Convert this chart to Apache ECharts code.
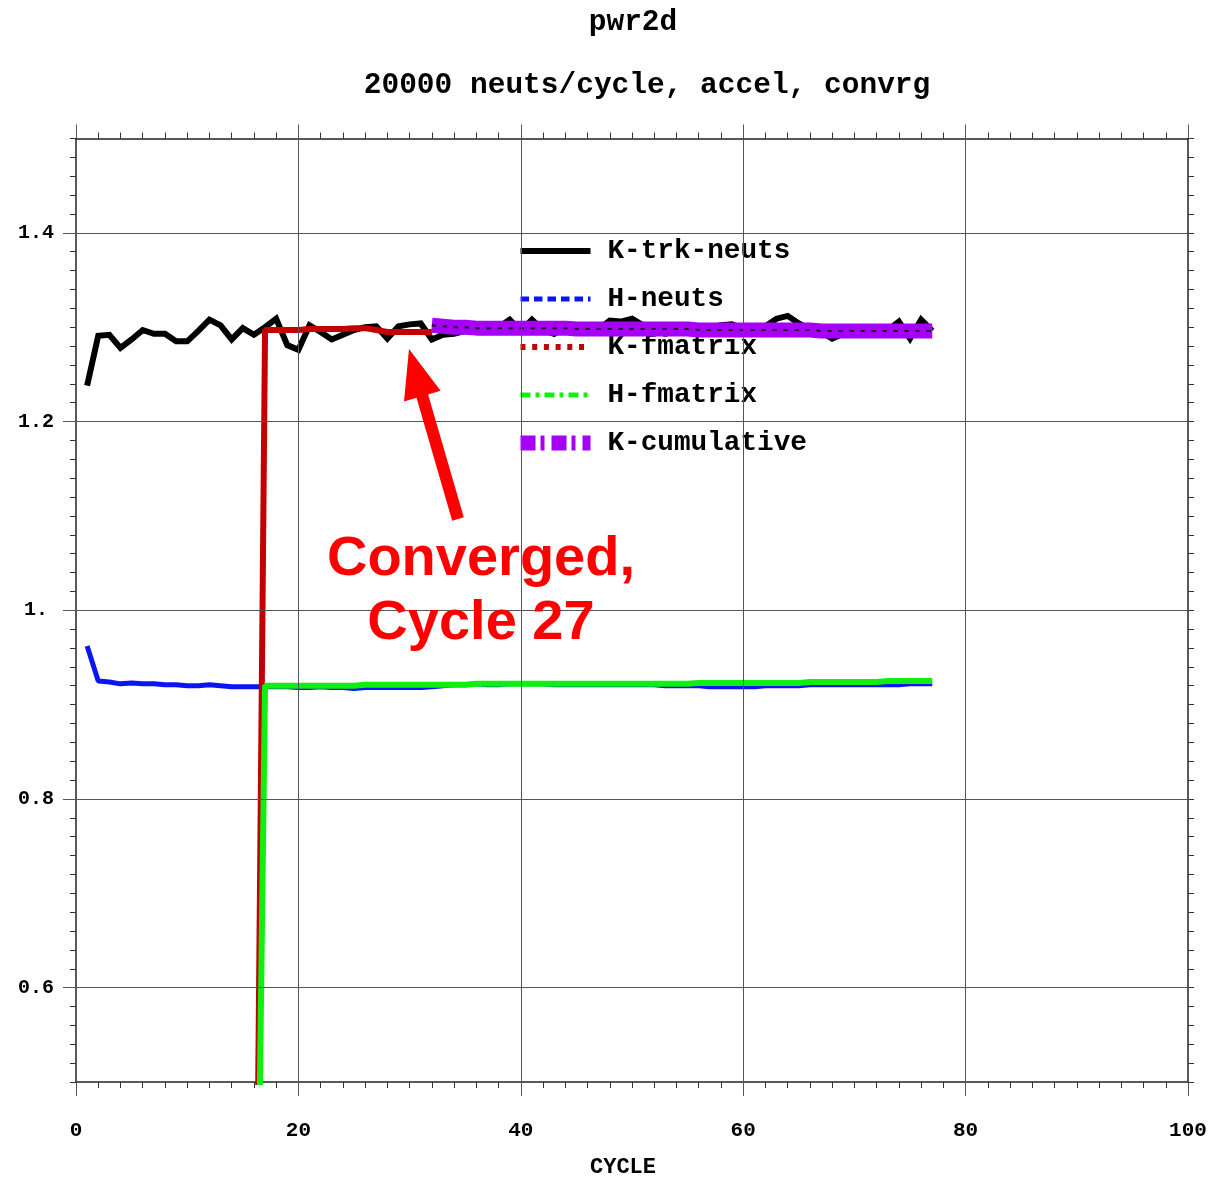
<!DOCTYPE html>
<html>
<head>
<meta charset="utf-8">
<script src="https://cdn.jsdelivr.net/npm/echarts@6/dist/echarts.min.js"></script>
<style>
html,body{margin:0;padding:0;background:#fff;overflow:hidden;}
#chart{width:1213px;height:1183px;}
</style>
</head>
<body>
<div id="chart"></div>
<script>
// ---- data ----
const titleMain = 'pwr2d';
const titleSub = '20000 neuts/cycle, accel, convrg';
const xName = 'CYCLE';
const xTicks = [0, 20, 40, 60, 80, 100];
const yGridValues = [0.6, 0.8, 1.0, 1.2, 1.4];
const xGridValues = [20, 40, 60, 80];
const seriesNames = ['K-trk-neuts', 'H-neuts', 'K-fmatrix', 'H-fmatrix', 'K-cumulative'];

const kTrkStart = 1;
const kTrkNeuts = [1.238,1.291,1.292,1.278,1.287,1.297,1.293,1.293,1.285,1.285,
  1.296,1.308,1.302,1.287,1.299,1.292,1.300,1.309,1.281,1.276,
  1.302,1.295,1.287,1.292,1.297,1.300,1.301,1.288,1.301,1.303,
  1.304,1.287,1.292,1.293,1.296,1.300,1.295,1.300,1.308,1.296,
  1.308,1.297,1.293,1.301,1.300,1.295,1.298,1.307,1.306,1.309,
  1.302,1.296,1.293,1.297,1.295,1.298,1.300,1.302,1.303,1.298,
  1.296,1.301,1.309,1.312,1.304,1.298,1.295,1.288,1.293,1.297,
  1.295,1.298,1.297,1.306,1.288,1.308,1.296];

const hNeutsStart = 1;
const hNeuts = [0.962,0.925,0.924,0.922,0.923,0.922,0.922,0.921,0.921,0.920,
  0.920,0.921,0.920,0.919,0.919,0.919,0.919,0.919,0.919,0.918,
  0.918,0.919,0.918,0.918,0.917,0.918,0.918,0.918,0.918,0.918,
  0.918,0.919,0.920,0.921,0.921,0.922,0.921,0.921,0.922,0.922,
  0.922,0.922,0.921,0.921,0.921,0.921,0.921,0.921,0.921,0.921,
  0.921,0.921,0.920,0.920,0.920,0.920,0.919,0.919,0.919,0.919,
  0.919,0.920,0.920,0.920,0.920,0.921,0.921,0.921,0.921,0.921,
  0.921,0.921,0.921,0.921,0.922,0.922,0.922];

const kFmatrixStart = 16;
const kFmatrix = [0, 1.297,1.297,1.297,1.297,1.298,1.298,1.298,1.298,1.299,1.299,
  1.297,1.295,1.295,1.295,1.295,1.295];

const hFmatrixStart = 16;
const hFmatrix = [0,
  0.920,0.920,0.920,0.920,0.920,0.920,0.920,0.920,0.920,
  0.921,0.921,0.921,0.921,0.921,0.921,0.921,0.921,0.921,0.921,
  0.922,0.922,0.922,0.922,0.922,0.922,0.922,0.922,0.922,0.922,
  0.922,0.922,0.922,0.922,0.922,0.922,0.922,0.922,0.922,0.922,
  0.923,0.923,0.923,0.923,0.923,0.923,0.923,0.923,0.923,0.923,
  0.924,0.924,0.924,0.924,0.924,0.924,0.924,
  0.925,0.925,0.925,0.925,0.925];

const kCumStart = 32;
const kCumulative = [1.302,1.301,1.300,1.300,
  1.299,1.299,1.299,1.299,1.299,1.299,1.299,1.299,1.299,
  1.298,1.298,1.298,1.298,1.298,1.298,1.298,1.298,1.298,1.298,1.298,
  1.297,1.297,1.297,1.297,1.297,1.297,1.297,1.297,1.297,1.297,1.297,
  1.296,1.296,1.296,1.296,1.296,1.296,1.296,1.296,1.296,1.296,1.296];

const annotationLines = ['Converged,', 'Cycle 27'];

// ---- build ----
function pairs(start, arr) { return arr.map((v, i) => [start + i, v]); }
const MONO = "'Liberation Mono', 'DejaVu Sans Mono', monospace";

const el = document.getElementById('chart');
const chart = echarts.init(el, null, {renderer: 'canvas', width: 1213, height: 1183});

function yLabel(v) {
  const r = Math.round(v * 100) / 100;
  for (const g of yGridValues) {
    if (Math.abs(g - r) < 1e-6) return Math.abs(r - 1) < 1e-6 ? '1.' : r.toFixed(1);
  }
  return '';
}

const frameLine = {show: true, onZero: false, lineStyle: {color: '#222', width: 1.5}};
const minorLS = {color: '#333', width: 1};
const majorLS = {color: '#555', width: 1};

const xCommon = {
  type: 'value', min: 0, max: 100, interval: 20,
  axisLine: frameLine,
  axisTick: {show: true, length: 14, lineStyle: majorLS},
  minorTick: {show: true, splitNumber: 10, length: 6, lineStyle: minorLS},
  splitLine: {show: false}
};

const option = {
  animation: false,
  backgroundColor: '#fff',
  title: [
    {text: titleMain, left: 628, top: 3, textAlign: 'center',
     textStyle: {fontFamily: MONO, fontWeight: 'bold', fontSize: 29.5, color: '#000'}},
    {text: titleSub, left: 642, top: 66, textAlign: 'center',
     textStyle: {fontFamily: MONO, fontWeight: 'bold', fontSize: 29.5, color: '#000'}}
  ],
  grid: {left: 76, width: 1112, top: 138.5, height: 952, containLabel: false},
  legend: {
    orient: 'vertical', left: 513, top: 231, padding: 0, z: 1,
    itemWidth: 70, itemHeight: 14, itemGap: 8, selectedMode: false,
    textStyle: {fontFamily: MONO, fontWeight: 'bold', fontSize: 27.7, color: '#000',
                lineHeight: 30, padding: [0, 0, 10, 12]},
    data: [
      {name: seriesNames[0], itemStyle: {opacity: 0}, lineStyle: {width: 6, type: 'solid'}},
      {name: seriesNames[1], itemStyle: {opacity: 0}, lineStyle: {width: 5, type: [8.5, 5]}},
      {name: seriesNames[2], itemStyle: {opacity: 0}, lineStyle: {width: 6, type: [5, 6.7]}},
      {name: seriesNames[3], itemStyle: {opacity: 0}, lineStyle: {width: 5, type: [10, 5, 4, 5]}},
      {name: seriesNames[4], itemStyle: {opacity: 0}, lineStyle: {width: 15, type: [15, 5, 4, 7]}}
    ]
  },
  xAxis: [
    Object.assign({}, xCommon, {
      position: 'bottom',
      axisLabel: {margin: 38, fontFamily: MONO, fontWeight: 'bold', fontSize: 21, color: '#000',
                  customValues: xTicks},
      name: xName, nameLocation: 'middle', nameGap: 74,
      nameTextStyle: {fontFamily: MONO, fontWeight: 'bold', fontSize: 22, color: '#000', padding: [0, 0, 0, -18]}
    }),
    Object.assign({}, xCommon, {position: 'top', axisLabel: {show: false}})
  ],
  yAxis: [
    {type: 'value', position: 'left', min: 0.5, max: 1.5, interval: 0.02,
     axisLine: frameLine,
     axisTick: {show: true, length: 6, lineStyle: minorLS},
     splitLine: {show: false},
     axisLabel: {margin: 40, align: 'center', formatter: yLabel,
                 fontFamily: MONO, fontWeight: 'bold', fontSize: 20, color: '#000'}},
    {type: 'value', position: 'left', min: 0.5, max: 1.5, interval: 0.1,
     axisLine: {show: false},
     axisTick: {show: true, length: 13, customValues: yGridValues, lineStyle: majorLS},
     splitLine: {show: false}, axisLabel: {show: false}},
    {type: 'value', position: 'right', min: 0.5, max: 1.5, interval: 0.02,
     axisLine: frameLine,
     axisTick: {show: true, length: 6, lineStyle: minorLS},
     splitLine: {show: false}, axisLabel: {show: false}},
    {type: 'value', position: 'right', min: 0.5, max: 1.5, interval: 0.1,
     axisLine: {show: false},
     axisTick: {show: true, length: 13, customValues: yGridValues, lineStyle: majorLS},
     splitLine: {show: false}, axisLabel: {show: false}}
  ],
  series: [
    {
      name: 'grid', type: 'line', data: [], z: 0, silent: true,
      markLine: {
        silent: true, symbol: ['none', 'none'], label: {show: false}, animation: false,
        lineStyle: {color: '#555', width: 1, type: 'solid'},
        emphasis: {disabled: true},
        data: yGridValues.map(v => ({yAxis: v})).concat(xGridValues.map(v => ({xAxis: v})))
      }
    },
    {name: seriesNames[0], type: 'line', z: 2, symbol: 'none', data: pairs(kTrkStart, kTrkNeuts),
     lineStyle: {color: '#000', width: 6, join: 'miter'}, itemStyle: {color: '#000'}},
    {name: seriesNames[1], type: 'line', z: 2, symbol: 'none', data: pairs(hNeutsStart, hNeuts),
     lineStyle: {color: '#0a14f5', width: 5}, itemStyle: {color: '#0a14f5'}},
    {name: seriesNames[2], type: 'line', z: 2, symbol: 'none', data: pairs(kFmatrixStart, kFmatrix),
     lineStyle: {color: '#c40000', width: 6}, itemStyle: {color: '#c40000'}},
    {name: seriesNames[3], type: 'line', z: 2, symbol: 'none', data: pairs(hFmatrixStart, hFmatrix),
     lineStyle: {color: '#10f010', width: 6}, itemStyle: {color: '#10f010'}},
    {name: seriesNames[4], type: 'line', z: 2, symbol: 'none', data: pairs(kCumStart, kCumulative),
     lineStyle: {color: '#a600f6', width: 15}, itemStyle: {color: '#a600f6'}},
    {name: 'K-cumulative-err', type: 'line', z: 3, symbol: 'none', data: pairs(kCumStart, kCumulative),
     lineStyle: {color: '#111', width: 2, type: [4, 7]}, silent: true}
  ],
  graphic: [
    {type: 'polygon', z: 100, silent: true,
     shape: {points: [[452.2, 520.7], [416.5, 397.8], [404.0, 401.4], [409, 349], [440.6, 390.8], [428.1, 394.4], [463.8, 517.3]]},
     style: {fill: '#ff0000'}},
    {type: 'text', z: 100, x: 481, y: 560, silent: true,
     style: {text: annotationLines[0], fill: '#ff0000', font: "bold 56px 'Liberation Sans', Arial, sans-serif",
             textAlign: 'center', textVerticalAlign: 'middle'}},
    {type: 'text', z: 100, x: 481, y: 624, silent: true,
     style: {text: annotationLines[1], fill: '#ff0000', font: "bold 56px 'Liberation Sans', Arial, sans-serif",
             textAlign: 'center', textVerticalAlign: 'middle'}}
  ]
};

chart.setOption(option);
</script>
</body>
</html>
